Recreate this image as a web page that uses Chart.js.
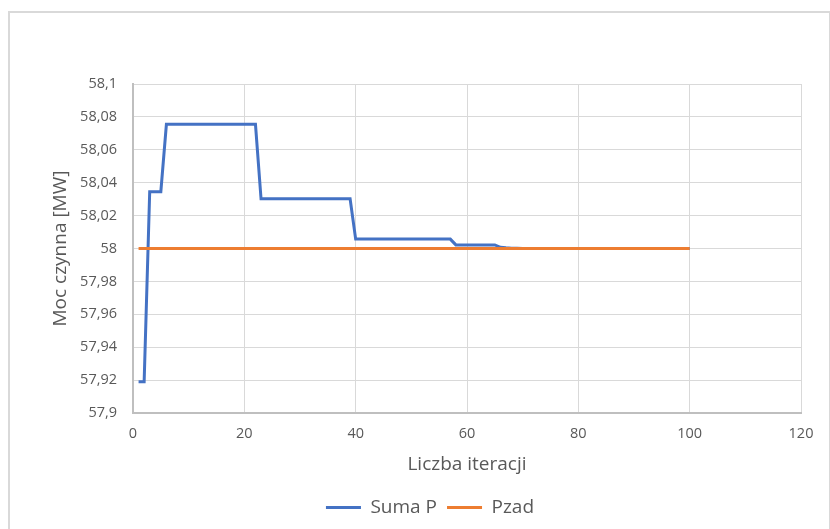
<!DOCTYPE html>
<html lang="pl">
<head>
<meta charset="UTF-8">
<title>Moc czynna</title>
<script src="https://cdn.jsdelivr.net/npm/chart.js"></script>
<style>
    html, body { margin: 0; padding: 0; background: #fff; overflow: hidden; }
    #ramka {
        position: absolute; left: 8px; top: 11px; width: 819px; height: 540px;
        border: 2px solid #d9d9d9; border-bottom: none;
    }
    #myChartCanvas { position: absolute; left: 0; top: 0; }
</style>
</head>
<body>
<div id="ramka"></div>
<canvas id="myChartCanvas" width="830" height="527"></canvas>

<script>
    // numery iteracji
    const iteracje = [
        1, 2, 3, 4, 5, 6, 7, 8, 9, 10,
        11, 12, 13, 14, 15, 16, 17, 18, 19, 20,
        21, 22, 23, 24, 25, 26, 27, 28, 29, 30,
        31, 32, 33, 34, 35, 36, 37, 38, 39, 40,
        41, 42, 43, 44, 45, 46, 47, 48, 49, 50,
        51, 52, 53, 54, 55, 56, 57, 58, 59, 60,
        61, 62, 63, 64, 65, 66, 67, 68, 69, 70,
        71, 72, 73, 74, 75, 76, 77, 78, 79, 80,
        81, 82, 83, 84, 85, 86, 87, 88, 89, 90,
        91, 92, 93, 94, 95, 96, 97, 98, 99, 100
    ];

    // Suma P [MW]
    const sumaP = [
        57.919, 57.919, 58.0345, 58.0345, 58.0345, 58.0755, 58.0755, 58.0755, 58.0755, 58.0755,
        58.0755, 58.0755, 58.0755, 58.0755, 58.0755, 58.0755, 58.0755, 58.0755, 58.0755, 58.0755,
        58.0755, 58.0755, 58.0302, 58.0302, 58.0302, 58.0302, 58.0302, 58.0302, 58.0302, 58.0302,
        58.0302, 58.0302, 58.0302, 58.0302, 58.0302, 58.0302, 58.0302, 58.0302, 58.0302, 58.0057,
        58.0057, 58.0057, 58.0057, 58.0057, 58.0057, 58.0057, 58.0057, 58.0057, 58.0057, 58.0057,
        58.0057, 58.0057, 58.0057, 58.0057, 58.0057, 58.0057, 58.0057, 58.0022, 58.0022, 58.0022,
        58.0022, 58.0022, 58.0022, 58.0022, 58.0022, 58.0007, 58.0004, 58.0002, 58.0001, 58,
        58, 58, 58, 58, 58, 58, 58, 58, 58, 58,
        58, 58, 58, 58, 58, 58, 58, 58, 58, 58,
        58, 58, 58, 58, 58, 58, 58, 58, 58, 58
    ];

    // Pzad [MW]
    const pzad = [
        58, 58, 58, 58, 58, 58, 58, 58, 58, 58,
        58, 58, 58, 58, 58, 58, 58, 58, 58, 58,
        58, 58, 58, 58, 58, 58, 58, 58, 58, 58,
        58, 58, 58, 58, 58, 58, 58, 58, 58, 58,
        58, 58, 58, 58, 58, 58, 58, 58, 58, 58,
        58, 58, 58, 58, 58, 58, 58, 58, 58, 58,
        58, 58, 58, 58, 58, 58, 58, 58, 58, 58,
        58, 58, 58, 58, 58, 58, 58, 58, 58, 58,
        58, 58, 58, 58, 58, 58, 58, 58, 58, 58,
        58, 58, 58, 58, 58, 58, 58, 58, 58, 58
    ];

    // opisy osi
    const ticksX = [0, 20, 40, 60, 80, 100, 120];
    const ticksY = [57.9, 57.92, 57.94, 57.96, 57.98, 58, 58.02, 58.04, 58.06, 58.08, 58.1];

    const fontTxt = "'Open Sans', 'Liberation Sans', sans-serif";

    function punkty(ys) {
        return ys.map(function (y, i) { return { x: iteracje[i], y: y }; });
    }

    function liczbaPL(v) {
        return String(Math.round(v * 1000) / 1000).replace('.', ',');
    }

    // Pzad rysowane na wierzchu (order mniejszy = wyżej)
    const dane = {
        datasets: [{
            label: 'Suma P',
            data: punkty(sumaP),
            borderColor: '#4472c4',
            backgroundColor: '#4472c4',
            borderWidth: 3,
            pointRadius: 0,
            tension: 0,
            order: 2
        }, {
            label: 'Pzad',
            data: punkty(pzad),
            borderColor: '#ed7d31',
            backgroundColor: '#ed7d31',
            borderWidth: 3,
            pointRadius: 0,
            tension: 0,
            order: 1
        }]
    };

    const config = {
        type: 'line',
        data: dane,
        options: {
            responsive: false,
            animation: false,
            // lewy padding 59 -> legenda wycentrowana jak w oryginale
            layout: { padding: { left: 59, top: 84, right: 29, bottom: 0 } },
            plugins: {
                tooltip: { enabled: false },
                legend: {
                    position: 'bottom',
                    labels: {
                        boxWidth: 35, boxHeight: 0, padding: 10,
                        color: '#595959',
                        font: { family: fontTxt, size: 19 },
                        sort: function (a, b) { return a.datasetIndex - b.datasetIndex; }
                    }
                }
            },
            scales: {
                x: {
                    type: 'linear', min: 0, max: 120,
                    afterBuildTicks: function (s) { s.ticks = ticksX.map(function (v) { return { value: v }; }); },
                    afterFit: function (s) { s.height = 487 - 412; },
                    grid: { color: '#d9d9d9', lineWidth: 1, drawTicks: false },
                    border: { color: '#bfbfbf', width: 2 },
                    ticks: {
                        padding: 12, color: '#595959', maxRotation: 0,
                        font: { family: fontTxt, size: 14.5 }
                    },
                    title: {
                        display: true, text: 'Liczba iteracji', color: '#595959',
                        padding: { top: 0, bottom: 12 },
                        font: { family: fontTxt, size: 19 }
                    }
                },
                y: {
                    min: 57.9, max: 58.1,
                    afterBuildTicks: function (s) { s.ticks = ticksY.map(function (v) { return { value: v }; }); },
                    afterFit: function (s) { s.width = 133 - 59; },
                    grid: { color: '#d9d9d9', lineWidth: 1, drawTicks: false },
                    border: { color: '#bfbfbf', width: 2 },
                    ticks: {
                        padding: 16, color: '#595959',
                        font: { family: fontTxt, size: 14.5 },
                        callback: function (v) { return liczbaPL(v); }
                    },
                    title: {
                        display: true, text: 'Moc czynna [MW]', color: '#595959',
                        padding: { top: -10, bottom: 0 },
                        font: { family: fontTxt, size: 19 }
                    }
                }
            }
        }
    };

    let myChart = new Chart(document.getElementById('myChartCanvas'), config);
</script>
</body>
</html>
